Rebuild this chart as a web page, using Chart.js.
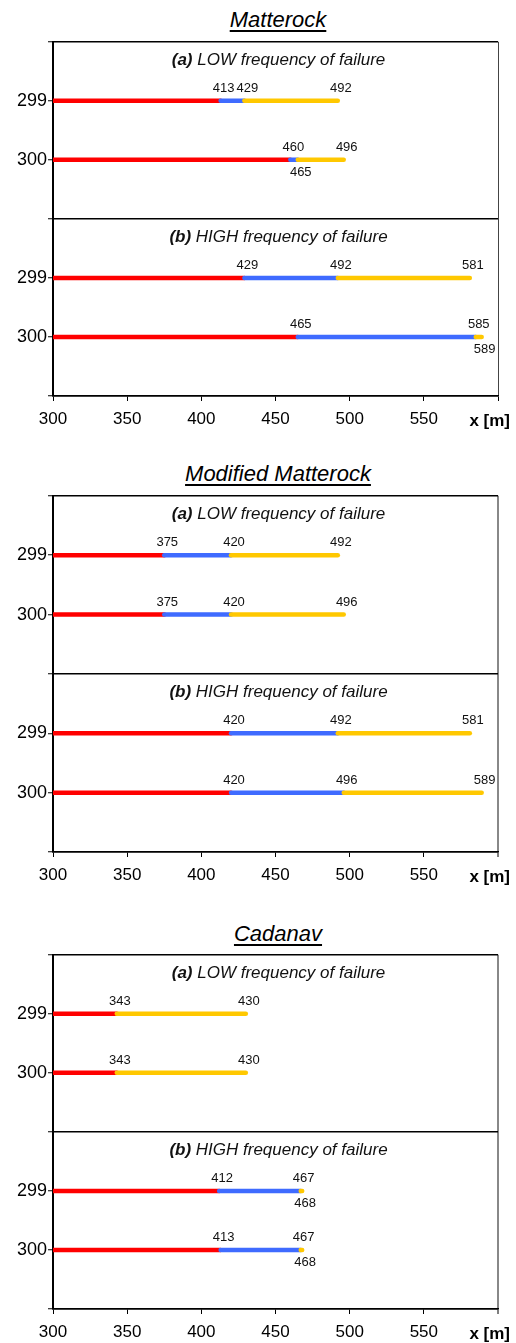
<!DOCTYPE html>
<html><head><meta charset="utf-8">
<script src="https://cdn.jsdelivr.net/npm/chart.js@4.4.0/dist/chart.umd.min.js"></script>
<style>
html,body{margin:0;padding:0;background:#fff;overflow:hidden;width:516px;height:1343px;}
.wrap{position:relative;width:516px;height:1343px;}
canvas{position:absolute;left:0;}
.title{position:absolute;left:0;width:556px;text-align:center;font:italic 22px/22px "Liberation Sans",Arial,sans-serif;color:#000;}
.title span{text-decoration:underline;text-underline-offset:3px;text-decoration-thickness:1.5px;}
</style></head>
<body><div class="wrap">
<div class="title" style="top:9px"><span>Matterock</span></div>
<canvas id="c1" width="516" height="400" style="top:30px"></canvas>
<div class="title" style="top:463px"><span>Modified Matterock</span></div>
<canvas id="c2" width="516" height="402" style="top:484px"></canvas>
<div class="title" style="top:923px"><span>Cadanav</span></div>
<canvas id="c3" width="516" height="400" style="top:943px"></canvas>
</div>
<script>
// ---- data ----
const rowLabels = ['299', '300'];
const xTicks = [300, 350, 400, 450, 500, 550, 600];
const panelTitlesBold = ['(a)', '(b)'];
const panelTitlesText = [' LOW frequency of failure', ' HIGH frequency of failure'];
const axisUnit = 'x [m]';

const matterockLowRed = [413, 460];
const matterockLowBlue = [429, 465];
const matterockLowYellow = [492, 496];
const matterockHighRed = [429, 465];
const matterockHighBlue = [492, 585];
const matterockHighYellow = [581, 589];

const modifiedLowRed = [375, 375];
const modifiedLowBlue = [420, 420];
const modifiedLowYellow = [492, 496];
const modifiedHighRed = [420, 420];
const modifiedHighBlue = [492, 496];
const modifiedHighYellow = [581, 589];

const cadanavLowRed = [343, 343];
const cadanavLowBlue = [343, 343];
const cadanavLowYellow = [430, 430];
const cadanavHighRed = [412, 413];
const cadanavHighBlue = [467, 467];
const cadanavHighYellow = [468, 468];

// ---- style ----
const RED = '#FF0000', BLUE = '#3F6BFF', YELLOW = '#FFC800';
const FONT = '"Liberation Sans", Arial, sans-serif';
Chart.defaults.font.family = FONT;

function seg(x0, x1, y, color, order) {
  return {
    data: [{x: x0, y: y}, {x: x1, y: y}],
    borderColor: color, backgroundColor: color, borderWidth: 4.5,
    borderCapStyle: 'round', pointRadius: 0, showLine: true, order: order,
    clip: {left: 0, top: 6, right: 6, bottom: 6}
  };
}

function buildDatasets(panels) {
  const ds = [];
  panels.forEach((p, pi) => {
    rowLabels.forEach((_, ri) => {
      const y = pi * 3 + ri + 1;
      const r = p.red[ri], b = p.blue[ri], yl = p.yellow[ri];
      ds.push(seg(xTicks[0], r, y, RED, 3));
      if (b > r) ds.push(seg(r, b, y, BLUE, 2));
      ds.push(seg(b, yl, y, YELLOW, 1));
    });
  });
  return ds;
}

const labelPlugin = {
  id: 'segLabels',
  afterDatasetsDraw(chart, args, opts) {
    const {ctx, chartArea, scales} = chart;
    const xs = scales.x, ys = scales.y;
    ctx.save();
    opts.panels.forEach((p, pi) => {
      // panel subtitle
      const top = ys.getPixelForValue(pi * 3);
      const cx = (chartArea.left + chartArea.right) / 2 + 3;
      ctx.fillStyle = '#111';
      ctx.textBaseline = 'alphabetic';
      ctx.font = 'italic bold 17px ' + FONT;
      const w1 = ctx.measureText(panelTitlesBold[pi]).width;
      ctx.font = 'italic 17px ' + FONT;
      const w2 = ctx.measureText(panelTitlesText[pi]).width;
      let sx = cx - (w1 + w2) / 2;
      ctx.textAlign = 'left';
      ctx.font = 'italic bold 17px ' + FONT;
      ctx.fillText(panelTitlesBold[pi], sx, top + 23);
      ctx.font = 'italic 17px ' + FONT;
      ctx.fillText(panelTitlesText[pi], sx + w1, top + 23);
      // value labels
      ctx.font = '13px ' + FONT;
      ctx.textAlign = 'center';
      rowLabels.forEach((_, ri) => {
        const yp = ys.getPixelForValue(pi * 3 + ri + 1);
        const vals = [p.red[ri], p.blue[ri], p.yellow[ri]];
        let prev = null;
        vals.forEach(v => {
          if (prev !== null && v === prev) return;
          const below = prev !== null && (v - prev) < 10;
          const px = xs.getPixelForValue(v) + 3;
          ctx.fillText(String(v), px, below ? yp + 16 : yp - 9);
          prev = v;
        });
      });
    });
    // axis unit label
    ctx.font = 'bold 17px ' + FONT;
    ctx.textAlign = 'right';
    ctx.fillStyle = '#000';
    ctx.fillText(axisUnit, chart.width - 6, chartArea.bottom + 30);
    ctx.restore();
  }
};

function makeChart(id, panels, rightColor, rightWidth) {
  new Chart(document.getElementById(id), {
    type: 'scatter',
    data: {datasets: buildDatasets(panels)},
    options: {
      responsive: false, animation: false, devicePixelRatio: 1,
      layout: {padding: {top: 8, right: 18, left: 0, bottom: 0}},
      plugins: {legend: {display: false}, tooltip: {enabled: false}, segLabels: {panels: panels}},
      scales: {
        x: {
          type: 'linear', min: xTicks[0], max: xTicks[xTicks.length - 1],
          afterBuildTicks: axis => { axis.ticks = xTicks.map(v => ({value: v})); },
          afterFit: axis => { axis.height = 34; },
          ticks: {
            color: '#000', font: {size: 17}, padding: 8, maxRotation: 0, autoSkip: false,
            callback: v => (v === xTicks[xTicks.length - 1] ? '' : String(v))
          },
          grid: {
            color: c => (c.tick && c.tick.value === xTicks[xTicks.length - 1]) ? rightColor : 'rgba(0,0,0,0)',
            lineWidth: c => (c.tick && c.tick.value === xTicks[xTicks.length - 1]) ? rightWidth : 1,
            tickColor: '#000', tickLength: 5, tickWidth: 1
          },
          border: {color: '#000', width: 1.5}
        },
        y: {
          type: 'linear', min: 0, max: 6, reverse: true,
          afterFit: axis => { axis.width = 53; },
          ticks: {
            stepSize: 1, color: '#000', font: {size: 18}, padding: 1, autoSkip: false,
            callback: v => { const m = v % 3; return m === 0 ? '' : rowLabels[m - 1]; }
          },
          grid: {
            color: c => (c.tick && c.tick.value % 3 === 0) ? '#000' : 'rgba(0,0,0,0)',
            lineWidth: 1.5,
            tickColor: '#000', tickLength: 5, tickWidth: 1
          },
          border: {color: '#000', width: 2}
        }
      }
    },
    plugins: [labelPlugin]
  });
}

makeChart('c1', [
  {red: matterockLowRed, blue: matterockLowBlue, yellow: matterockLowYellow},
  {red: matterockHighRed, blue: matterockHighBlue, yellow: matterockHighYellow}
], '#444', 1);
makeChart('c2', [
  {red: modifiedLowRed, blue: modifiedLowBlue, yellow: modifiedLowYellow},
  {red: modifiedHighRed, blue: modifiedHighBlue, yellow: modifiedHighYellow}
], '#888', 2);
makeChart('c3', [
  {red: cadanavLowRed, blue: cadanavLowBlue, yellow: cadanavLowYellow},
  {red: cadanavHighRed, blue: cadanavHighBlue, yellow: cadanavHighYellow}
], '#888', 2);
</script>
</body></html>
